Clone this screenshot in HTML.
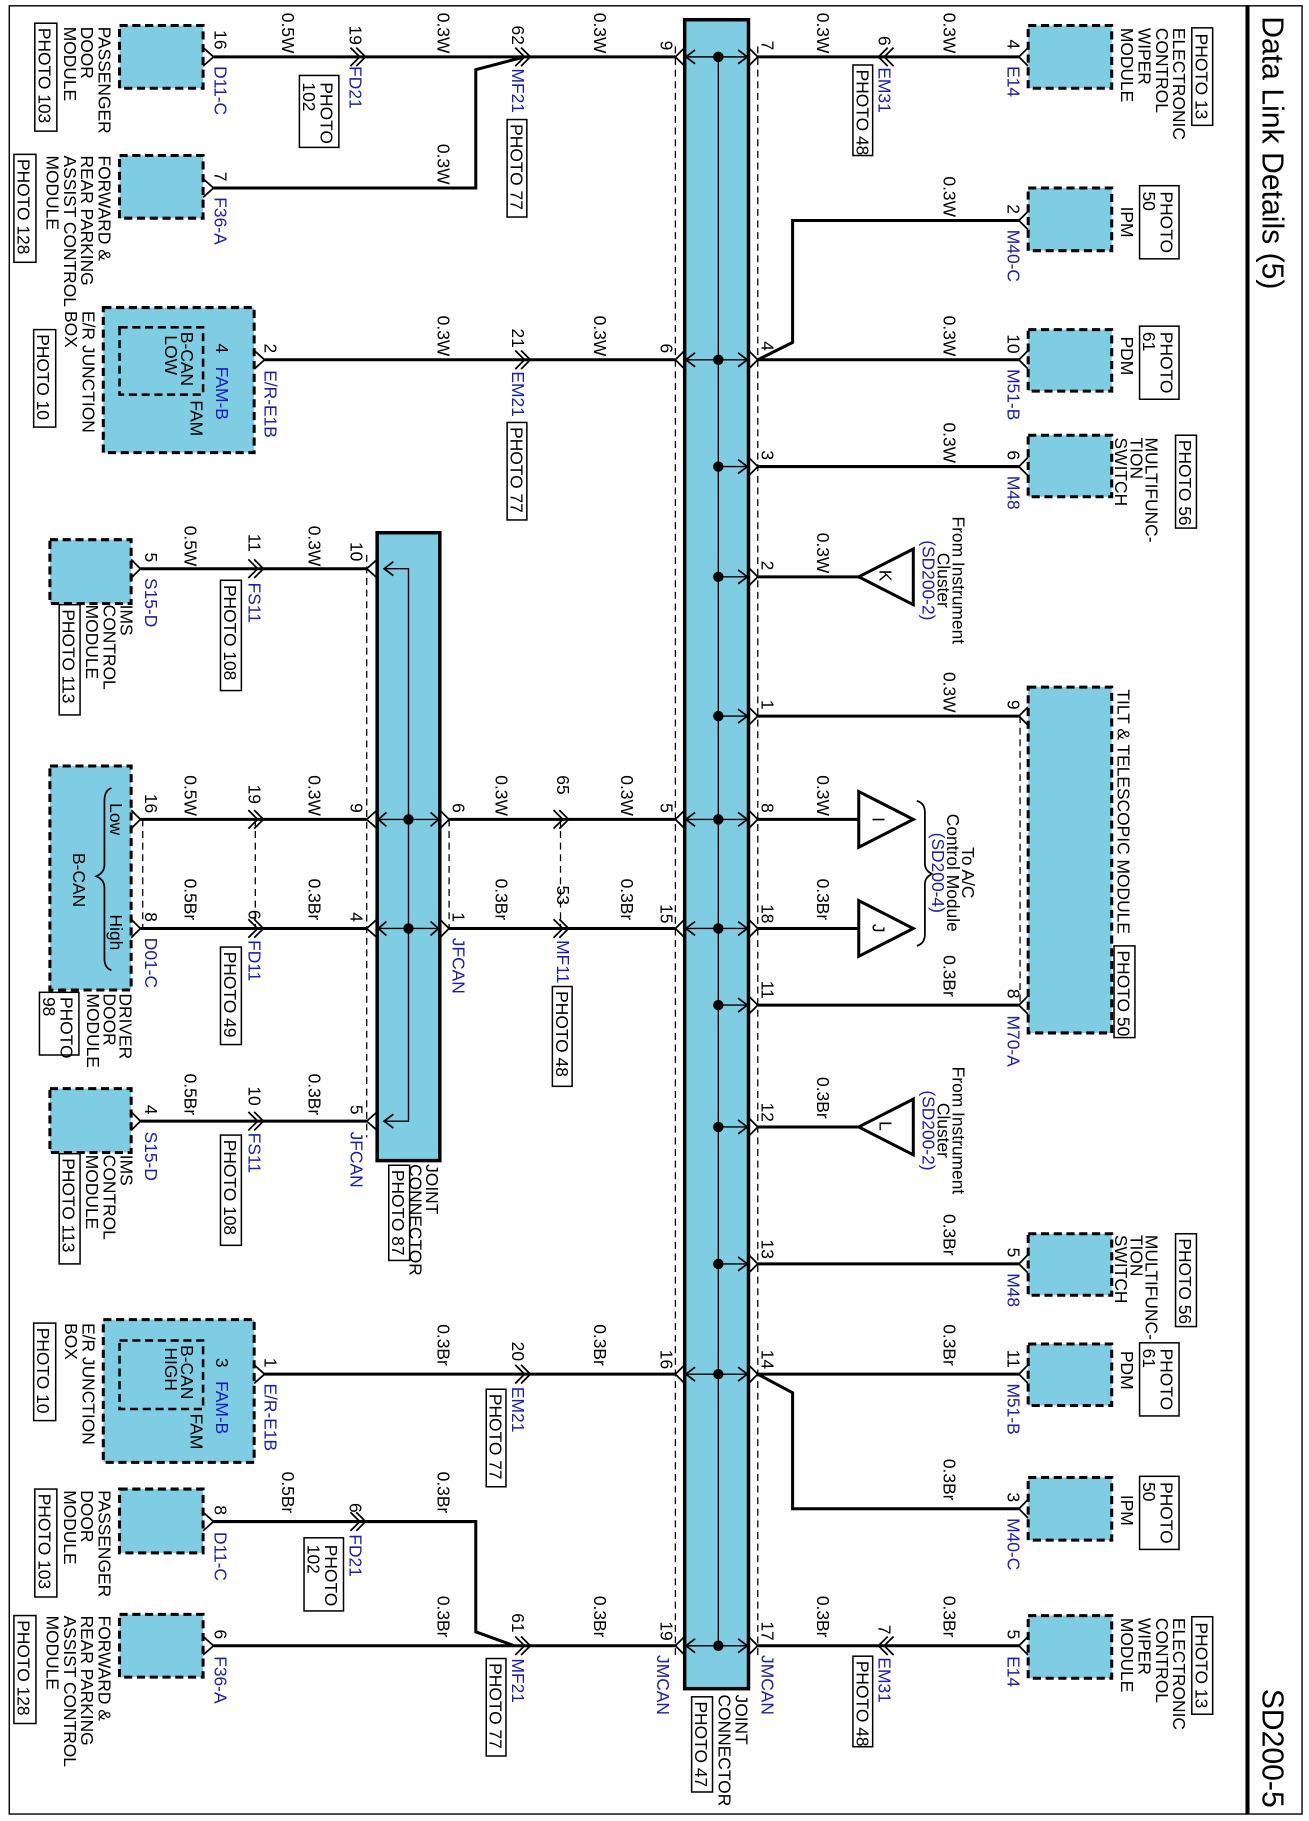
<!DOCTYPE html>
<html><head><meta charset="utf-8"><style>
html,body{margin:0;padding:0;background:#fff}
svg{display:block}
text{font-family:"Liberation Sans",Arial,sans-serif;font-size:15px;fill:#000}
.b{fill:#1c1cb4}
.w{stroke:#000;stroke-width:2.6;fill:none}
.t{stroke:#000;stroke-width:1.2;fill:none}
.c{stroke:#000;stroke-width:1.5;fill:none}
.d{stroke:#000;stroke-width:1.1;fill:none;stroke-dasharray:6,4}
.m{fill:#7fcde2;stroke:#000;stroke-width:2.6;stroke-dasharray:7,4}
.bar{fill:#7fcde2;stroke:#000;stroke-width:3}
.p{fill:#fff;stroke:#000;stroke-width:1.3}
</style></head><body>
<svg width="1309" height="1821" viewBox="0 0 1128 1569" preserveAspectRatio="none" xmlns="http://www.w3.org/2000/svg">
<rect x="8" y="5" width="1114" height="1558" fill="none" stroke="#000" stroke-width="1.2"/>
<line x1="1075" y1="5" x2="1075" y2="1563" stroke="#000" stroke-width="3.5"/>
<text transform="translate(1088,14) rotate(90)" style="font-size:26px">Data Link Details (5)</text>
<text transform="translate(1088,1455) rotate(90)" style="font-size:26px">SD200-5</text>

<!-- main joint connector -->
<rect class="bar" x="590" y="17" width="55" height="1438"/>
<line class="t" x1="619" y1="49" x2="619" y2="1418"/>
<line class="d" x1="582" y1="40" x2="582" y2="1430"/>
<line class="d" x1="653" y1="40" x2="653" y2="1430"/>
<g>
<g class="t">
<path d="M619 49H645M619 310H645M619 402H645M619 497H645M619 617H645M619 706H645M619 800H645M619 866H645M619 971H645M619 1089H645M619 1184H645M619 1418H645"/>
<path d="M590 49H619M590 310H619M590 706H619M590 800H619M590 1184H619M590 1418H619"/>
</g>
<g class="c">
<path d="M636 43L644 49L636 55M636 304L644 310L636 316M636 396L644 402L636 408M636 491L644 497L636 503M636 611L644 617L636 623M636 700L644 706L636 712M636 794L644 800L636 806M636 860L644 866L636 872M636 965L644 971L636 977M636 1083L644 1089L636 1095M636 1178L644 1184L636 1190M636 1412L644 1418L636 1424"/>
<path d="M599 43L591 49L599 55M599 304L591 310L599 316M599 700L591 706L599 712M599 794L591 800L599 806M599 1178L591 1184L599 1190M599 1412L591 1418L599 1424"/>
<path d="M645 41L653 49L645 57M645 302L653 310L645 318M645 394L653 402L645 410M645 489L653 497L645 505M645 609L653 617L645 625M645 698L653 706L645 714M645 792L653 800L645 808M645 858L653 866L645 874M645 963L653 971L645 979M645 1081L653 1089L645 1097M645 1176L653 1184L645 1192M645 1410L653 1418L645 1426"/>
<path d="M590 41L582 49L590 57M590 302L582 310L590 318M590 698L582 706L590 714M590 792L582 800L590 808M590 1176L582 1184L590 1192M590 1410L582 1418L590 1426"/>
</g>
<g fill="#000">
<circle cx="619" cy="49" r="4.5"/><circle cx="619" cy="310" r="4.5"/><circle cx="619" cy="402" r="4.5"/><circle cx="619" cy="497" r="4.5"/><circle cx="619" cy="617" r="4.5"/><circle cx="619" cy="706" r="4.5"/><circle cx="619" cy="800" r="4.5"/><circle cx="619" cy="866" r="4.5"/><circle cx="619" cy="971" r="4.5"/><circle cx="619" cy="1089" r="4.5"/><circle cx="619" cy="1184" r="4.5"/><circle cx="619" cy="1418" r="4.5"/>
</g>
</g>
<text transform="translate(634,1460) rotate(90)"><tspan x="0">JOINT</tspan><tspan x="0" dy="15">CONNECTOR</tspan></text>
<rect class="p" x="596" y="1462" width="18" height="82"/>
<text transform="translate(599,1466) rotate(90)">PHOTO 47</text>
<text class="b" transform="translate(656,1426) rotate(90)">JMCAN</text>
<text class="b" transform="translate(566,1426) rotate(90)">JMCAN</text>

<path class="w" d="M653 49H878M878 190H683V295L653 310M653 310H878M653 402H878M653 497H740M653 617H878M653 706H740M653 800H740M653 866H878M653 971H740M653 1089H878M653 1184H878M878 1300H683V1200L653 1184M653 1418H878"/>
<path class="c" d="M765 41L757 49L765 57M770 41L762 49L770 57M765 1410L757 1418L765 1426M770 1410L762 1418L770 1426"/>
<path class="c" d="M886 41L878 49L886 57M886 182L878 190L886 198M886 302L878 310L886 318M886 394L878 402L886 410M886 609L878 617L886 625M886 858L878 866L886 874M886 1081L878 1089L886 1097M886 1176L878 1184L886 1192M886 1292L878 1300L886 1308M886 1410L878 1418L886 1426"/>
<line class="d" x1="879" y1="617" x2="879" y2="866"/>
<rect class="m" x="886" y="22" width="72" height="54"/>
<rect class="m" x="886" y="162" width="72" height="54"/>
<rect class="m" x="886" y="284" width="72" height="53"/>
<rect class="m" x="886" y="375" width="72" height="53"/>
<rect class="m" x="886" y="592" width="72" height="298"/>
<rect class="m" x="886" y="1063" width="72" height="53"/>
<rect class="m" x="886" y="1158" width="72" height="53"/>
<rect class="m" x="886" y="1273" width="72" height="54"/>
<rect class="m" x="886" y="1392" width="72" height="54"/>
<g stroke="#000" stroke-width="2.6" fill="#fff">
<polygon points="740,497 787,473 787,521"/>
<polygon points="740,971 787,947 787,995"/>
<polygon points="740,682 740,730 787,706"/>
<polygon points="740,776 740,824 787,800"/>
</g>
<text transform="translate(758,491) rotate(90)">K</text>
<text transform="translate(758,966) rotate(90)">L</text>
<text transform="translate(752,704) rotate(90)">I</text>
<text transform="translate(752,796) rotate(90)">J</text>
<path class="c" d="M790 690Q797 692 797 700V744Q797 750 803 753Q797 756 797 762V805Q797 813 790 815"/>
<g text-anchor="middle">
<text transform="translate(821,500) rotate(90)">From Instrument</text>
<text transform="translate(808,500) rotate(90)">Cluster</text>
<text class="b" transform="translate(795,500) rotate(90)">(SD200-2)</text>
<text transform="translate(821,974) rotate(90)">From Instrument</text>
<text transform="translate(808,974) rotate(90)">Cluster</text>
<text class="b" transform="translate(795,974) rotate(90)">(SD200-2)</text>
<text transform="translate(829,752) rotate(90)">To A/C</text>
<text transform="translate(816,752) rotate(90)">Control Module</text>
<text class="b" transform="translate(803,752) rotate(90)">(SD200-4)</text>
</g>

<g>
<text transform="translate(813,11) rotate(90)">0.3W</text>
<text transform="translate(813,152) rotate(90)">0.3W</text>
<text transform="translate(813,272) rotate(90)">0.3W</text>
<text transform="translate(813,364) rotate(90)">0.3W</text>
<text transform="translate(813,579) rotate(90)">0.3W</text>
<text transform="translate(813,823) rotate(90)">0.3Br</text>
<text transform="translate(813,1046) rotate(90)">0.3Br</text>
<text transform="translate(813,1141) rotate(90)">0.3Br</text>
<text transform="translate(813,1257) rotate(90)">0.3Br</text>
<text transform="translate(813,1375) rotate(90)">0.3Br</text>
<text transform="translate(704,11) rotate(90)">0.3W</text>
<text transform="translate(704,459) rotate(90)">0.3W</text>
<text transform="translate(704,668) rotate(90)">0.3W</text>
<text transform="translate(704,757) rotate(90)">0.3Br</text>
<text transform="translate(704,928) rotate(90)">0.3Br</text>
<text transform="translate(704,1375) rotate(90)">0.3Br</text>
<text transform="translate(656,35) rotate(90)">7</text>
<text transform="translate(656,294) rotate(90)">4</text>
<text transform="translate(656,388) rotate(90)">3</text>
<text transform="translate(656,483) rotate(90)">2</text>
<text transform="translate(656,603) rotate(90)">1</text>
<text transform="translate(656,692) rotate(90)">8</text>
<text transform="translate(656,779) rotate(90)">18</text>
<text transform="translate(656,845) rotate(90)">11</text>
<text transform="translate(656,950) rotate(90)">12</text>
<text transform="translate(656,1068) rotate(90)">13</text>
<text transform="translate(656,1163) rotate(90)">14</text>
<text transform="translate(656,1397) rotate(90)">17</text>
<text transform="translate(757,31) rotate(90)">6</text>
<text class="b" transform="translate(757,58) rotate(90)">EM31</text>
<rect class="p" x="735" y="56" width="17" height="78"/>
<text transform="translate(738,60) rotate(90)">PHOTO 48</text>
<text transform="translate(757,1400) rotate(90)">7</text>
<text class="b" transform="translate(757,1428) rotate(90)">EM31</text>
<rect class="p" x="735" y="1427" width="17" height="78"/>
<text transform="translate(738,1431) rotate(90)">PHOTO 48</text>

<text transform="translate(868,34) rotate(90)">4</text>
<text class="b" transform="translate(868,57) rotate(90)">E14</text>
<text transform="translate(868,176) rotate(90)">2</text>
<text class="b" transform="translate(868,198) rotate(90)">M40-C</text>
<text transform="translate(868,288) rotate(90)">10</text>
<text class="b" transform="translate(868,318) rotate(90)">M51-B</text>
<text transform="translate(868,388) rotate(90)">6</text>
<text class="b" transform="translate(868,410) rotate(90)">M48</text>
<text transform="translate(868,603) rotate(90)">9</text>
<text transform="translate(868,852) rotate(90)">8</text>
<text class="b" transform="translate(868,875) rotate(90)">M70-A</text>
<text transform="translate(868,1075) rotate(90)">5</text>
<text class="b" transform="translate(868,1097) rotate(90)">M48</text>
<text transform="translate(868,1163) rotate(90)">11</text>
<text class="b" transform="translate(868,1192) rotate(90)">M51-B</text>
<text transform="translate(868,1286) rotate(90)">3</text>
<text class="b" transform="translate(868,1308) rotate(90)">M40-C</text>
<text transform="translate(868,1404) rotate(90)">5</text>
<text class="b" transform="translate(868,1427) rotate(90)">E14</text>

<text transform="translate(1011,24) rotate(90)"><tspan x="0">ELECTRONIC</tspan><tspan x="0" dy="15">CONTROL</tspan><tspan x="0" dy="15">WIPER</tspan><tspan x="0" dy="15">MODULE</tspan></text>
<rect class="p" x="1027" y="24" width="18" height="84"/>
<text transform="translate(1030,29) rotate(90)">PHOTO 13</text>
<text transform="translate(1011,1394) rotate(90)"><tspan x="0">ELECTRONIC</tspan><tspan x="0" dy="15">CONTROL</tspan><tspan x="0" dy="15">WIPER</tspan><tspan x="0" dy="15">MODULE</tspan></text>
<rect class="p" x="1027" y="1393" width="18" height="84"/>
<text transform="translate(1030,1398) rotate(90)">PHOTO 13</text>

<text transform="translate(966,178) rotate(90)">IPM</text>
<rect class="p" x="982" y="160" width="34" height="63"/>
<text transform="translate(1000,165) rotate(90)"><tspan x="0">PHOTO</tspan><tspan x="0" dy="15">50</tspan></text>
<text transform="translate(966,1288) rotate(90)">IPM</text>
<rect class="p" x="982" y="1272" width="34" height="63"/>
<text transform="translate(1000,1277) rotate(90)"><tspan x="0">PHOTO</tspan><tspan x="0" dy="15">50</tspan></text>

<text transform="translate(966,290) rotate(90)">PDM</text>
<rect class="p" x="982" y="281" width="34" height="63"/>
<text transform="translate(1000,286) rotate(90)"><tspan x="0">PHOTO</tspan><tspan x="0" dy="15">61</tspan></text>
<text transform="translate(966,1164) rotate(90)">PDM</text>
<rect class="p" x="982" y="1157" width="34" height="63"/>
<text transform="translate(1000,1162) rotate(90)"><tspan x="0">PHOTO</tspan><tspan x="0" dy="15">61</tspan></text>

<text transform="translate(987,377) rotate(90)"><tspan x="0">MULTIFUNC-</tspan><tspan x="0" dy="13">TION</tspan><tspan x="0" dy="13">SWITCH</tspan></text>
<rect class="p" x="1013" y="375" width="18" height="80"/>
<text transform="translate(1016,379) rotate(90)">PHOTO 56</text>
<text transform="translate(987,1064) rotate(90)"><tspan x="0">MULTIFUNC-</tspan><tspan x="0" dy="13">TION</tspan><tspan x="0" dy="13">SWITCH</tspan></text>
<rect class="p" x="1013" y="1063" width="18" height="80"/>
<text transform="translate(1016,1067) rotate(90)">PHOTO 56</text>

<text transform="translate(963,594) rotate(90)">TILT &amp; TELESCOPIC MODULE</text>
<rect class="p" x="960" y="815" width="18" height="79"/>
<text transform="translate(963,819) rotate(90)">PHOTO 50</text>
</g>

<path class="w" d="M582 49H184M452 49L410 60V162H184M582 310H228M582 706H387M582 800H387M582 1184H228M582 1418H184M443 1418L410 1406V1311H184"/>
<path class="c" d="M444 41L452 49L444 57M449 41L457 49L449 57M302 41L310 49L302 57M307 41L315 49L307 57M444 302L452 310L444 318M449 302L457 310L449 318M477 698L485 706L477 714M482 698L490 706L482 714M477 792L485 800L477 808M482 792L490 800L482 808M444 1176L452 1184L444 1192M449 1176L457 1184L449 1192M444 1410L452 1418L444 1426M449 1410L457 1418L449 1426M302 1303L310 1311L302 1319M307 1303L315 1311L307 1319"/>
<path class="c" d="M175 41L184 49L175 57M175 154L184 162L175 170M175 1303L184 1311L175 1319M175 1410L184 1418L175 1426M219 302L228 310L219 318M219 1176L228 1184L219 1192M175 302L184 310L175 318M175 1176L184 1184L175 1192"/>
<path class="w" d="M184 310H219M184 1184H219"/>

<rect class="m" x="103" y="22" width="72" height="54"/>
<rect class="m" x="103" y="134" width="72" height="54"/>
<rect class="m" x="89" y="265" width="130" height="125"/>
<rect x="103" y="282" width="72" height="58" fill="none" stroke="#000" stroke-width="2.2" stroke-dasharray="7,4"/>
<rect class="m" x="89" y="1137" width="130" height="123"/>
<rect x="103" y="1155" width="72" height="59" fill="none" stroke="#000" stroke-width="2.2" stroke-dasharray="7,4"/>
<rect class="m" x="103" y="1283" width="72" height="55"/>
<rect class="m" x="103" y="1391" width="72" height="54"/>

<g>
<text transform="translate(569,35) rotate(90)">9</text>
<text transform="translate(569,296) rotate(90)">6</text>
<text transform="translate(569,692) rotate(90)">5</text>
<text transform="translate(569,779) rotate(90)">15</text>
<text transform="translate(569,1163) rotate(90)">16</text>
<text transform="translate(569,1397) rotate(90)">19</text>
<text transform="translate(512,11) rotate(90)">0.3W</text>
<text transform="translate(512,272) rotate(90)">0.3W</text>
<text transform="translate(535,668) rotate(90)">0.3W</text>
<text transform="translate(535,757) rotate(90)">0.3Br</text>
<text transform="translate(512,1141) rotate(90)">0.3Br</text>
<text transform="translate(512,1375) rotate(90)">0.3Br</text>
<text transform="translate(377,11) rotate(90)">0.3W</text>
<text transform="translate(377,124) rotate(90)">0.3W</text>
<text transform="translate(377,272) rotate(90)">0.3W</text>
<text transform="translate(377,1141) rotate(90)">0.3Br</text>
<text transform="translate(377,1268) rotate(90)">0.3Br</text>
<text transform="translate(377,1375) rotate(90)">0.3Br</text>
<text transform="translate(243,11) rotate(90)">0.5W</text>
<text transform="translate(243,1268) rotate(90)">0.5Br</text>

<text transform="translate(441,22) rotate(90)">62</text>
<text class="b" transform="translate(441,59) rotate(90)">MF21</text>
<rect class="p" x="437" y="103" width="17" height="84"/>
<text transform="translate(440,107) rotate(90)">PHOTO 77</text>
<text transform="translate(441,283) rotate(90)">21</text>
<text class="b" transform="translate(441,320) rotate(90)">EM21</text>
<rect class="p" x="437" y="364" width="17" height="84"/>
<text transform="translate(440,368) rotate(90)">PHOTO 77</text>
<text transform="translate(441,1156) rotate(90)">20</text>
<text class="b" transform="translate(441,1195) rotate(90)">EM21</text>
<rect class="p" x="419" y="1197" width="17" height="84"/>
<text transform="translate(422,1201) rotate(90)">PHOTO 77</text>
<text transform="translate(441,1390) rotate(90)">61</text>
<text class="b" transform="translate(441,1429) rotate(90)">MF21</text>
<rect class="p" x="419" y="1429" width="17" height="84"/>
<text transform="translate(422,1433) rotate(90)">PHOTO 77</text>

<text transform="translate(301,22) rotate(90)">19</text>
<text class="b" transform="translate(301,57) rotate(90)">FD21</text>
<rect class="p" x="258" y="65" width="34" height="62"/>
<text transform="translate(276,71) rotate(90)"><tspan x="0">PHOTO</tspan><tspan x="0" dy="15">102</tspan></text>
<text transform="translate(301,1295) rotate(90)">6</text>
<text class="b" transform="translate(301,1322) rotate(90)">FD21</text>
<rect class="p" x="262" y="1325" width="34" height="63"/>
<text transform="translate(280,1331) rotate(90)"><tspan x="0">PHOTO</tspan><tspan x="0" dy="15">102</tspan></text>

<text transform="translate(185,26) rotate(90)">16</text>
<text class="b" transform="translate(185,57) rotate(90)">D11-C</text>
<text transform="translate(185,148) rotate(90)">7</text>
<text class="b" transform="translate(185,170) rotate(90)">F36-A</text>
<text transform="translate(185,1297) rotate(90)">8</text>
<text class="b" transform="translate(185,1320) rotate(90)">D11-C</text>
<text transform="translate(185,1404) rotate(90)">6</text>
<text class="b" transform="translate(185,1427) rotate(90)">F36-A</text>

<text transform="translate(85,23) rotate(90)"><tspan x="0">PASSENGER</tspan><tspan x="0" dy="15">DOOR</tspan><tspan x="0" dy="15">MODULE</tspan></text>
<rect class="p" x="30" y="20" width="19" height="93"/>
<text transform="translate(33,24) rotate(90)">PHOTO 103</text>
<text transform="translate(85,1284) rotate(90)"><tspan x="0">PASSENGER</tspan><tspan x="0" dy="15">DOOR</tspan><tspan x="0" dy="15">MODULE</tspan></text>
<rect class="p" x="30" y="1283" width="19" height="93"/>
<text transform="translate(33,1287) rotate(90)">PHOTO 103</text>

<text transform="translate(85,134) rotate(90)"><tspan x="0">FORWARD &amp;</tspan><tspan x="0" dy="15">REAR PARKING</tspan><tspan x="0" dy="15">ASSIST CONTROL</tspan><tspan x="0" dy="15">MODULE</tspan></text>
<rect class="p" x="12" y="133" width="19" height="93"/>
<text transform="translate(15,137) rotate(90)">PHOTO 128</text>
<text transform="translate(85,1392) rotate(90)"><tspan x="0">FORWARD &amp;</tspan><tspan x="0" dy="15">REAR PARKING</tspan><tspan x="0" dy="15">ASSIST CONTROL</tspan><tspan x="0" dy="15">MODULE</tspan></text>
<rect class="p" x="12" y="1392" width="19" height="93"/>
<text transform="translate(15,1396) rotate(90)">PHOTO 128</text>

<text transform="translate(228,296) rotate(90)">2</text>
<text class="b" transform="translate(228,319) rotate(90)">E/R-E1B</text>
<text transform="translate(186,296) rotate(90)">4</text>
<text class="b" transform="translate(186,316) rotate(90)">FAM-B</text>
<text transform="translate(156,286) rotate(90)"><tspan x="0">B-CAN</tspan><tspan x="3" dy="14">LOW</tspan></text>
<text transform="translate(164,345) rotate(90)">FAM</text>
<text transform="translate(71,268) rotate(90)"><tspan x="0">E/R JUNCTION</tspan><tspan x="0" dy="15">BOX</tspan></text>
<rect class="p" x="29" y="284" width="19" height="84"/>
<text transform="translate(32,288) rotate(90)">PHOTO 10</text>

<text transform="translate(228,1170) rotate(90)">1</text>
<text class="b" transform="translate(228,1192) rotate(90)">E/R-E1B</text>
<text transform="translate(186,1170) rotate(90)">3</text>
<text class="b" transform="translate(186,1190) rotate(90)">FAM-B</text>
<text transform="translate(156,1159) rotate(90)"><tspan x="0">B-CAN</tspan><tspan x="2" dy="14">HIGH</tspan></text>
<text transform="translate(164,1218) rotate(90)">FAM</text>
<text transform="translate(71,1140) rotate(90)"><tspan x="0">E/R JUNCTION</tspan><tspan x="0" dy="15">BOX</tspan></text>
<rect class="p" x="29" y="1140" width="19" height="84"/>
<text transform="translate(32,1144) rotate(90)">PHOTO 10</text>
</g>

<rect class="bar" x="325" y="459" width="54" height="541"/>
<line class="d" x1="316" y1="478" x2="316" y2="980"/>
<line class="d" x1="387" y1="706" x2="387" y2="800"/>
<path class="t" d="M331 490H352V966H331M325 706H379M325 800H379"/>
<path class="c" d="M339 484L331 490L339 496M339 960L331 966L339 972M333 700L326 706L333 712M333 794L326 800L333 806M371 700L378 706L371 712M371 794L378 800L371 806"/>
<circle cx="352" cy="706" r="4.5"/><circle cx="352" cy="800" r="4.5"/>
<path class="c" d="M325 482L316 490L325 498M325 698L316 706L325 714M325 792L316 800L325 808M325 958L316 966L325 974M379 698L387 706L379 714M379 792L387 800L379 808"/>
<path class="w" d="M316 490H121M316 706H121M316 800H121M316 966H121"/>
<path class="c" d="M214 482L222 490L214 498M219 482L227 490L219 498M214 698L222 706L214 714M219 698L227 706L219 714M214 792L222 800L214 808M219 792L227 800L219 808M214 958L222 966L214 974M219 958L227 966L219 974M113 482L121 490L113 498M113 698L121 706L113 714M113 792L121 800L113 808M113 958L121 966L113 974"/>
<line class="d" x1="220" y1="706" x2="220" y2="800"/>
<line class="d" x1="123" y1="706" x2="123" y2="800"/>
<line class="d" x1="483" y1="706" x2="483" y2="800"/>
<rect class="m" x="43" y="465" width="70" height="55"/>
<rect class="m" x="43" y="660" width="70" height="193"/>
<rect class="m" x="43" y="938" width="70" height="55"/>
<path class="c" d="M96 679Q90 681 90 690V745Q90 752 83 755Q90 758 90 765V826Q90 834 96 836"/>
<text transform="translate(95,692) rotate(90)">Low</text>
<text transform="translate(95,788) rotate(90)">High</text>
<text transform="translate(63,735) rotate(90)">B-CAN</text>
<g>
<text transform="translate(302,467) rotate(90)">10</text>
<text transform="translate(302,692) rotate(90)">9</text>
<text transform="translate(302,786) rotate(90)">4</text>
<text transform="translate(302,952) rotate(90)">5</text>
<text class="b" transform="translate(302,975) rotate(90)">JFCAN</text>
<text transform="translate(390,692) rotate(90)">6</text>
<text transform="translate(390,786) rotate(90)">1</text>
<text class="b" transform="translate(390,808) rotate(90)">JFCAN</text>
<text transform="translate(427,668) rotate(90)">0.3W</text>
<text transform="translate(427,757) rotate(90)">0.3Br</text>
<text transform="translate(480,668) rotate(90)">65</text>
<text transform="translate(480,763) rotate(90)">53</text>
<text class="b" transform="translate(480,810) rotate(90)">MF11</text>
<rect class="p" x="476" y="850" width="17" height="86"/>
<text transform="translate(479,854) rotate(90)">PHOTO 48</text>
<text transform="translate(266,453) rotate(90)">0.3W</text>
<text transform="translate(266,668) rotate(90)">0.3W</text>
<text transform="translate(266,757) rotate(90)">0.3Br</text>
<text transform="translate(266,925) rotate(90)">0.3Br</text>
<text transform="translate(159,453) rotate(90)">0.5W</text>
<text transform="translate(159,668) rotate(90)">0.5W</text>
<text transform="translate(159,757) rotate(90)">0.5Br</text>
<text transform="translate(159,925) rotate(90)">0.5Br</text>
<text transform="translate(214,460) rotate(90)">11</text>
<text class="b" transform="translate(214,502) rotate(90)">FS11</text>
<rect class="p" x="190" y="500" width="18" height="95"/>
<text transform="translate(193,504) rotate(90)">PHOTO 108</text>
<text transform="translate(214,676) rotate(90)">19</text>
<text transform="translate(214,784) rotate(90)">6</text>
<text class="b" transform="translate(214,810) rotate(90)">FD11</text>
<rect class="p" x="190" y="816" width="18" height="84"/>
<text transform="translate(193,820) rotate(90)">PHOTO 49</text>
<text transform="translate(214,936) rotate(90)">10</text>
<text class="b" transform="translate(214,976) rotate(90)">FS11</text>
<rect class="p" x="190" y="978" width="18" height="95"/>
<text transform="translate(193,982) rotate(90)">PHOTO 108</text>
<text transform="translate(125,476) rotate(90)">5</text>
<text class="b" transform="translate(125,498) rotate(90)">S15-D</text>
<text transform="translate(125,684) rotate(90)">16</text>
<text transform="translate(125,786) rotate(90)">8</text>
<text class="b" transform="translate(125,808) rotate(90)">D01-C</text>
<text transform="translate(125,952) rotate(90)">4</text>
<text class="b" transform="translate(125,975) rotate(90)">S15-D</text>
<text transform="translate(104,521) rotate(90)"><tspan x="0">IMS</tspan><tspan x="0" dy="15">CONTROL</tspan><tspan x="0" dy="15">MODULE</tspan></text>
<rect class="p" x="51" y="521" width="18" height="95"/>
<text transform="translate(54,525) rotate(90)">PHOTO 113</text>
<text transform="translate(104,995) rotate(90)"><tspan x="0">IMS</tspan><tspan x="0" dy="15">CONTROL</tspan><tspan x="0" dy="15">MODULE</tspan></text>
<rect class="p" x="51" y="994" width="18" height="95"/>
<text transform="translate(54,998) rotate(90)">PHOTO 113</text>
<text transform="translate(103,856) rotate(90)"><tspan x="0">DRIVER</tspan><tspan x="0" dy="14">DOOR</tspan><tspan x="0" dy="14">MODULE</tspan></text>
<rect class="p" x="34" y="855" width="34" height="54"/>
<text transform="translate(52,859) rotate(90)"><tspan x="0">PHOTO</tspan><tspan x="0" dy="15">98</tspan></text>
<text transform="translate(367,1003) rotate(90)"><tspan x="0">JOINT</tspan><tspan x="0" dy="14">CONNECTOR</tspan></text>
<rect class="p" x="335" y="1004" width="18" height="82"/>
<text transform="translate(338,1008) rotate(90)">PHOTO 87</text>
</g>
</svg>
</body></html>
